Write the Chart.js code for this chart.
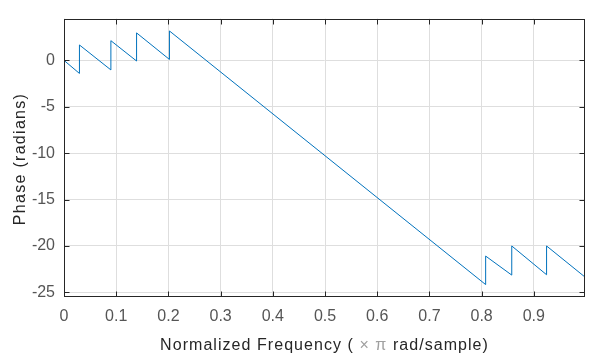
<!DOCTYPE html>
<html>
<head>
<meta charset="utf-8">
<script src="https://cdn.jsdelivr.net/npm/chart.js@4"></script>
<style>
  html, body { margin: 0; padding: 0; background: #fff; }
  #wrap { width: 596px; height: 360px; }
</style>
</head>
<body>
<div id="wrap"><canvas id="phaseChart" width="596" height="360"></canvas></div>
<script>
// 轉折點（頻率 × π rad/sample, 相位 rad）
var freq = [0, 0.0296, 0.0296, 0.0898, 0.0898, 0.139, 0.139, 0.202, 0.202, 0.8077, 0.8077, 0.8577, 0.8577, 0.9244, 0.9244, 0.998];
var phase = [0, -1.41, 1.66, -1.03, 2.12, -0.07, 2.96, 0.1, 3.17, -24.16, -21.09, -23.14, -20.0, -23.1, -20.0, -23.35];

var xTicks = [0, 0.1, 0.2, 0.3, 0.4, 0.5, 0.6, 0.7, 0.8, 0.9];
var yTicks = [-25, -20, -15, -10, -5, 0];
var xTitle = ['Normalized Frequency (', ' \u00d7 \u03c0 ', 'rad/sample)'];
var yTitle = 'Phase (radians)';

var axisColor = '#262626';
var gridColor = '#dedede';

// MATLAB 風格的外框、向內刻度和軸標題
var matlabAxes = {
  id: 'matlabAxes',
  afterDraw: function(chart) {
    var ctx = chart.ctx;
    var a = chart.chartArea;
    var xs = chart.scales.x, ys = chart.scales.y;
    var L = Math.round(a.left) + 0.5, R = Math.round(a.right) - 0.5;
    var T = Math.round(a.top) + 0.5, B = Math.round(a.bottom) - 0.5;
    var len = 5;
    ctx.save();
    ctx.strokeStyle = axisColor;
    ctx.lineWidth = 1;
    ctx.strokeRect(L, T, R - L, B - T);
    ctx.beginPath();
    xTicks.forEach(function(v) {
      var px = Math.round(xs.getPixelForValue(v)) + 0.5;
      ctx.moveTo(px, B); ctx.lineTo(px, B - len);
      ctx.moveTo(px, T); ctx.lineTo(px, T + len);
    });
    yTicks.forEach(function(v) {
      var py = Math.round(ys.getPixelForValue(v)) + 0.5;
      ctx.moveTo(L, py); ctx.lineTo(L + len, py);
      ctx.moveTo(R, py); ctx.lineTo(R - len, py);
    });
    ctx.stroke();

    // 軸標題
    ctx.font = '16px "Liberation Sans", Arial, sans-serif';
    ctx.letterSpacing = '1.05px';
    ctx.textBaseline = 'alphabetic';
    ctx.textAlign = 'left';
    var widths = xTitle.map(function(s) { return ctx.measureText(s).width; });
    var total = widths.reduce(function(s, w) { return s + w; }, 0);
    var x = (a.left + a.right) / 2 - total / 2;
    var colors = [axisColor, '#a0a0a0', axisColor];
    xTitle.forEach(function(s, i) {
      ctx.fillStyle = colors[i];
      ctx.fillText(s, x, 350);
      x += widths[i];
    });

    ctx.letterSpacing = '1.3px';
    ctx.translate(25, 159);
    ctx.rotate(-Math.PI / 2);
    ctx.textAlign = 'center';
    ctx.fillStyle = axisColor;
    ctx.fillText(yTitle, 0, 0);
    ctx.restore();
  }
};

var points = freq.map(function(f, i) { return { x: f, y: phase[i] }; });

var chart = new Chart(document.getElementById('phaseChart').getContext('2d'), {
  type: 'scatter',
  data: {
    datasets: [{
      data: points,
      showLine: true,
      borderColor: '#0072BD',
      borderWidth: 1,
      pointRadius: 0,
      fill: false
    }]
  },
  options: {
    responsive: false,
    animation: false,
    layout: { padding: { top: 13, right: 11, left: 0, bottom: 0 } },
    plugins: { legend: { display: false }, tooltip: { enabled: false } },
    scales: {
      x: {
        type: 'linear',
        min: 0,
        max: 0.998,
        afterFit: function(s) { s.height = 63; },
        afterBuildTicks: function(s) { s.ticks = xTicks.map(function(v) { return { value: v }; }); },
        grid: { color: gridColor, drawTicks: false },
        border: { display: false },
        ticks: {
          padding: 10,
          color: '#555555',
          font: { family: '"Liberation Sans", Arial, sans-serif', size: 16 },
          callback: function(v) { return String(Math.round(v * 10) / 10); }
        }
      },
      y: {
        type: 'linear',
        min: -25.5,
        max: 4.5,
        afterFit: function(s) { s.width = 64; },
        afterBuildTicks: function(s) { s.ticks = yTicks.map(function(v) { return { value: v }; }); },
        grid: { color: gridColor, drawTicks: false },
        border: { display: false },
        ticks: {
          padding: 9,
          color: '#555555',
          font: { family: '"Liberation Sans", Arial, sans-serif', size: 16 },
          callback: function(v) { return String(v); }
        }
      }
    }
  },
  plugins: [matlabAxes]
});
</script>
</body>
</html>
